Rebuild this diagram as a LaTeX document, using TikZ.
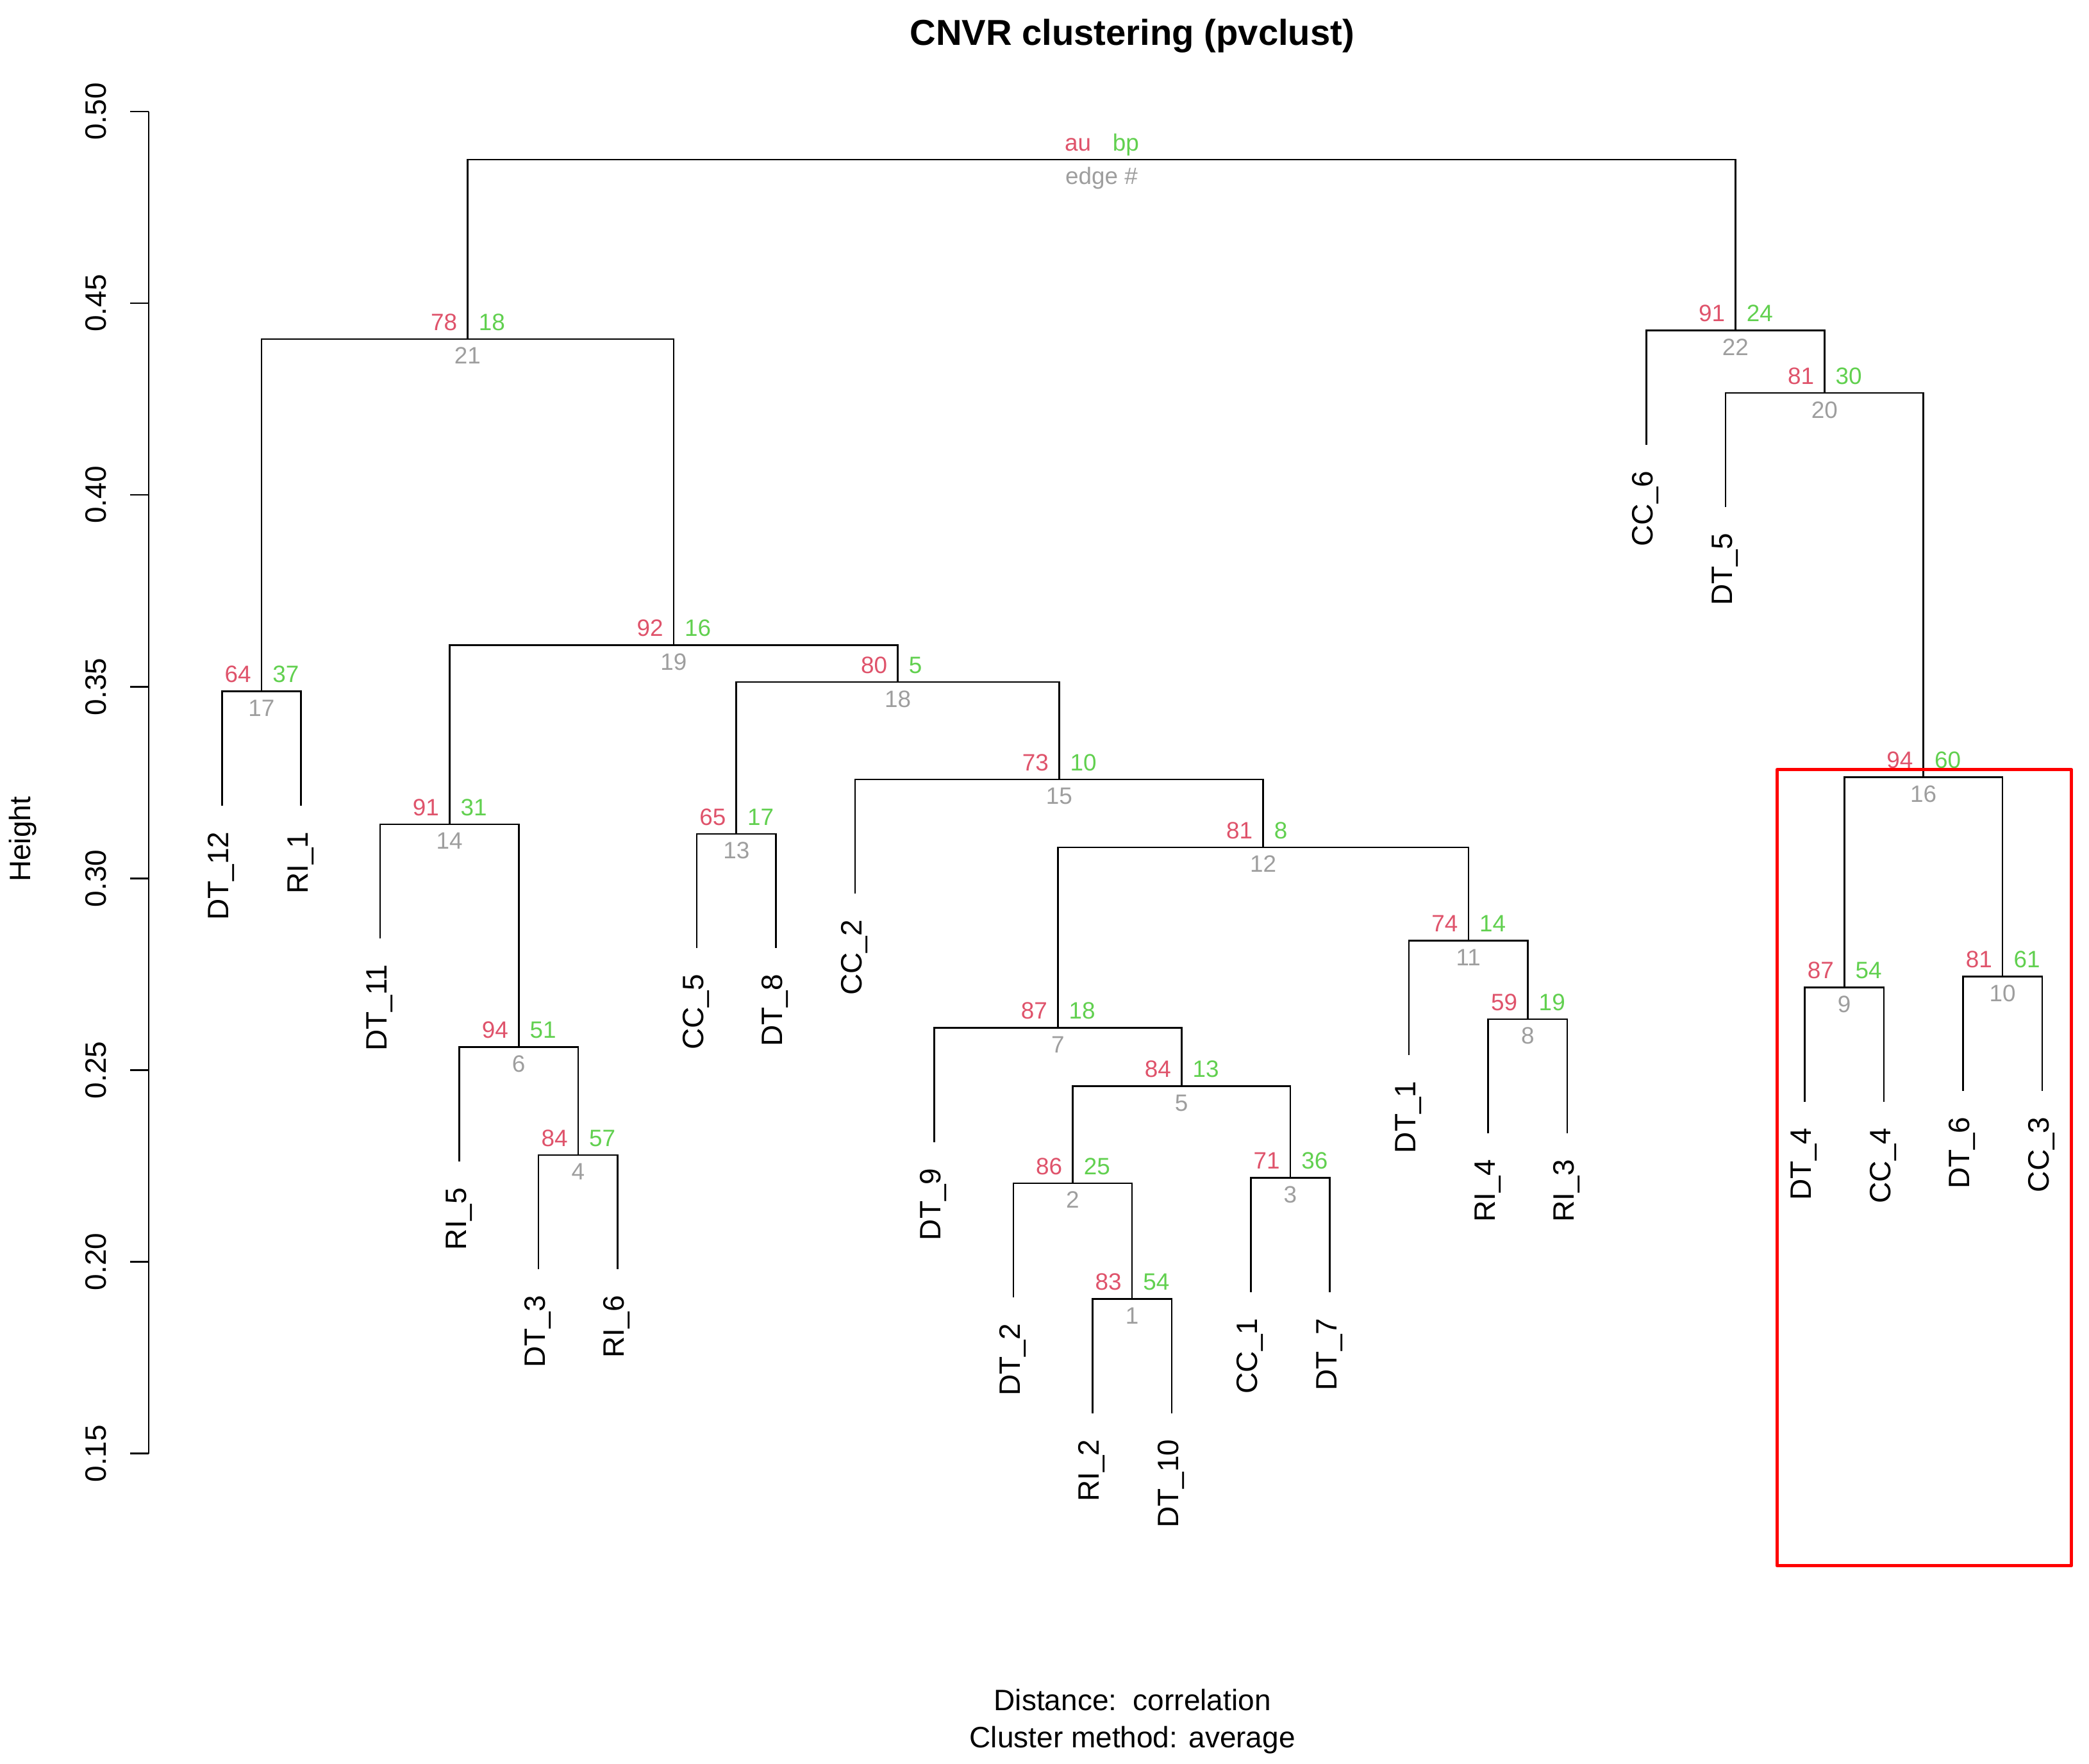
\documentclass[tikz,border=0pt]{standalone}
\usepackage{fontspec}
\setmainfont{Liberation Sans}
\definecolor{aured}{HTML}{DF536B}
\definecolor{bpgreen}{HTML}{61D04F}
\definecolor{edgegray}{HTML}{9E9E9E}
\definecolor{boxred}{HTML}{FF0000}
\newcommand\lblfont{\fontsize{12.6}{15}\selectfont}
\newcommand\pvfont{\fontsize{10.1}{12}\selectfont}
\newcommand\ttlfont{\fontsize{15.4}{18}\selectfont\bfseries}
% leaf: name, index, parent height (px), label
\newcommand\leafnode[4]{%
  \coordinate (#1) at ({166.6+59.4*(#2-1)},{#3+85.8});
  \node[leaflab] (#1-lab) at ([shift={(5,19.3)}]#1) {#4};
}
% merge: name, index, height (px), left, right, au, bp, edge
\newcommand\mergenode[8]{%
  \coordinate (#1) at ({166.6+59.4*(#2-1)},#3);
  \draw[dend] (#4) |- (#1) -| (#5);
  \node[pvau] (#1-au) at ([shift={(-7.5,-6.6)}]#1) {#6};
  \node[pvbp] (#1-bp) at ([shift={(8,-6.6)}]#1) {#7};
  \node[pvedge] (#1-edge) at ([shift={(0,18.7)}]#1) {#8};
}
\begin{document}
\begin{tikzpicture}[x=0.02cm,y=-0.02cm,
  dend/.style={line width=0.7pt},
  leaflab/.style={rotate=90, anchor=base east, inner sep=0pt, font=\lblfont},
  ticklab/.style={rotate=90, anchor=base, inner sep=0pt, font=\lblfont},
  pvau/.style={anchor=base east, inner sep=0pt, font=\pvfont, text=aured},
  pvbp/.style={anchor=base west, inner sep=0pt, font=\pvfont, text=bpgreen},
  pvedge/.style={anchor=base, inner sep=0pt, font=\pvfont, text=edgegray}]
\fill[white] (0,0) rectangle (1568,1324);
\useasboundingbox (0,0) rectangle (1568,1324);

% title and axis texts
\node[font=\ttlfont, anchor=base, inner sep=0pt] (title) at (849.8,33.7) {CNVR clustering (pvclust)};
\node[font=\lblfont, anchor=base, inner sep=0pt] (dist) at (850,1283.8) {Distance:\ \ correlation};
\node[font=\lblfont, anchor=base, inner sep=0pt] (meth) at (850,1311.8) {Cluster method: average};
\node[font=\lblfont, rotate=90, anchor=base, inner sep=0pt] (ylab) at (23,630) {Height};

% y axis
\draw[dend] (111.7,83.7) -- (111.7,1091.0);
\foreach \k/\lab in {0/0.50,1/0.45,2/0.40,3/0.35,4/0.30,5/0.25,6/0.20,7/0.15}{
  \draw[dend] (97.8,{83.7+143.9*\k}) -- (111.7,{83.7+143.9*\k});
  \node[ticklab] (tick\k) at (79.4,{83.7+143.9*\k}) {\lab};
}

% leaves
\leafnode{DT12}{1}{518.8}{DT\_12}
\leafnode{RI1}{2}{518.8}{RI\_1}
\leafnode{DT11}{3}{618.7}{DT\_11}
\leafnode{RI5}{4}{786}{RI\_5}
\leafnode{DT3}{5}{867}{DT\_3}
\leafnode{RI6}{6}{867}{RI\_6}
\leafnode{CC5}{7}{626}{CC\_5}
\leafnode{DT8}{8}{626}{DT\_8}
\leafnode{CC2}{9}{585}{CC\_2}
\leafnode{DT9}{10}{771.4}{DT\_9}
\leafnode{DT2}{11}{888.1}{DT\_2}
\leafnode{RI2}{12}{975}{RI\_2}
\leafnode{DT10}{13}{975}{DT\_10}
\leafnode{CC1}{14}{884.1}{CC\_1}
\leafnode{DT7}{15}{884.1}{DT\_7}
\leafnode{DT1}{16}{706}{DT\_1}
\leafnode{RI4}{17}{765}{RI\_4}
\leafnode{RI3}{18}{765}{RI\_3}
\leafnode{CC6}{19}{248}{CC\_6}
\leafnode{DT5}{20}{295}{DT\_5}
\leafnode{DT4}{21}{741.2}{DT\_4}
\leafnode{CC4}{22}{741.2}{CC\_4}
\leafnode{DT6}{23}{732.9}{DT\_6}
\leafnode{CC3}{24}{732.9}{CC\_3}

% merges
\mergenode{e1}{12.5}{975}{RI2}{DT10}{83}{54}{1}
\mergenode{e2}{11.75}{888.1}{DT2}{e1}{86}{25}{2}
\mergenode{e3}{14.5}{884.1}{CC1}{DT7}{71}{36}{3}
\mergenode{e4}{5.5}{867}{DT3}{RI6}{84}{57}{4}
\mergenode{e5}{13.125}{815.2}{e2}{e3}{84}{13}{5}
\mergenode{e6}{4.75}{786}{RI5}{e4}{94}{51}{6}
\mergenode{e7}{11.5625}{771.4}{DT9}{e5}{87}{18}{7}
\mergenode{e8}{17.5}{765}{RI4}{RI3}{59}{19}{8}
\mergenode{e9}{21.5}{741.2}{DT4}{CC4}{87}{54}{9}
\mergenode{e10}{23.5}{732.9}{DT6}{CC3}{81}{61}{10}
\mergenode{e11}{16.75}{706}{DT1}{e8}{74}{14}{11}
\mergenode{e12}{14.15625}{636}{e7}{e11}{81}{8}{12}
\mergenode{e13}{7.5}{626}{CC5}{DT8}{65}{17}{13}
\mergenode{e14}{3.875}{618.7}{DT11}{e6}{91}{31}{14}
\mergenode{e15}{11.578125}{585}{CC2}{e12}{73}{10}{15}
\mergenode{e16}{22.5}{583.3}{e9}{e10}{94}{60}{16}
\mergenode{e17}{1.5}{518.8}{DT12}{RI1}{64}{37}{17}
\mergenode{e18}{9.5390625}{512}{e13}{e15}{80}{5}{18}
\mergenode{e19}{6.70703125}{484.3}{e14}{e18}{92}{16}{19}
\mergenode{e20}{21.25}{295}{DT5}{e16}{81}{30}{20}
\mergenode{e21}{4.103515625}{254.5}{e17}{e19}{78}{18}{21}
\mergenode{e22}{20.125}{248}{CC6}{e20}{91}{24}{22}
\mergenode{root}{12.1142578}{119.8}{e21}{e22}{au}{bp}{edge \#}

% highlight box
\draw[boxred, line width=1.5pt, line join=round] (1333.8,577.7) rectangle (1554.8,1175.2);
\end{tikzpicture}
\end{document}
